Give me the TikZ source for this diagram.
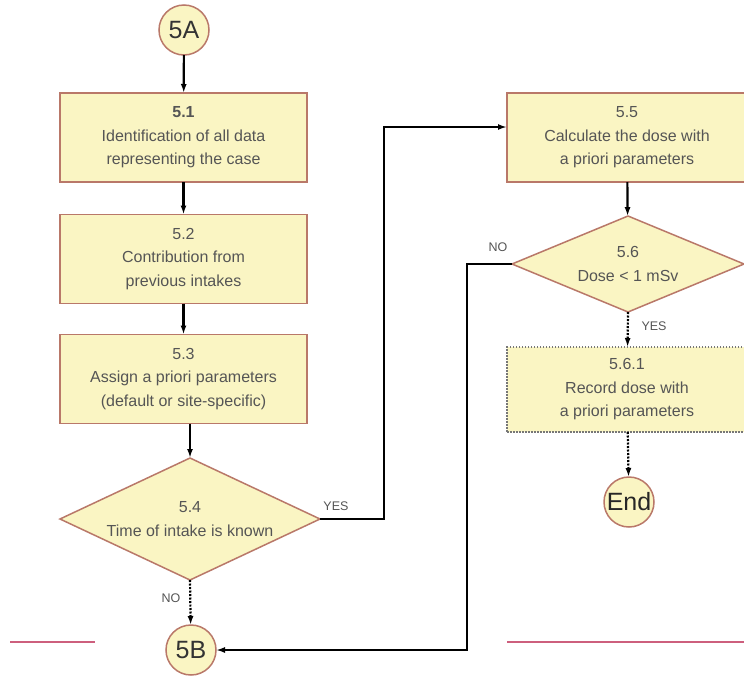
\documentclass[tikz,border=0pt]{standalone}
\usepackage{fontspec}
\setmainfont{Liberation Sans}
\usetikzlibrary{shapes.geometric,arrows.meta}
\definecolor{boxfill}{RGB}{250,245,195}
\definecolor{boxline}{RGB}{185,120,105}
\definecolor{txt}{RGB}{85,85,85}
\definecolor{redline}{RGB}{205,95,125}
\begin{document}
\begin{tikzpicture}[x=1pt,y=-1pt,
  every node/.style={inner sep=0pt,outer sep=0pt},
  proc/.style={draw=boxline,line width=1.5pt,fill=boxfill,minimum width=247pt,minimum height=89pt,
    font=\fontsize{16}{23.5}\selectfont,text=txt,align=center},
  dproc/.style={proc,draw=txt!80,dash pattern=on 1.5pt off 1.5pt,line width=1.2pt},
  dec/.style={diamond,draw=boxline,line width=1.5pt,fill=boxfill,aspect=2.1,
    font=\fontsize{16}{23.5}\selectfont,text=txt,align=center},
  conn/.style={circle,draw=boxline,line width=1.5pt,fill=boxfill,minimum size=50pt,
    font=\fontsize{25}{25}\selectfont,text=black!80},
  arr/.style={line width=2.2pt,-{Latex[length=9pt,width=6pt]}},
  darr/.style={line width=2.2pt,dash pattern=on 2pt off 1.5pt,-{Latex[length=9pt,width=6pt]}},
  lab/.style={font=\fontsize{12.5}{13}\selectfont,text=txt}]
\useasboundingbox (0,0) rectangle (744,675);
\fill[white] (0,0) rectangle (744,675);
\begin{scope}
\clip (0,0) rectangle (744,675);
% nodes
\node[conn] (c5a) at (184,30) {5A};
\node[proc] (b51) at (183.5,137.5) {\textbf{5.1}\\Identification of all data\\representing the case};
\node[proc] (b52) at (183.5,259) {5.2\\Contribution from\\previous intakes};
\node[proc] (b53) at (183.5,379) {5.3\\Assign a priori parameters\\(default or site-specific)};
\node[dec,minimum width=260pt,minimum height=122pt] (d54) at (190,519) {5.4\\Time of intake is known};
\node[conn] (c5b) at (191,650) {5B};
\node[proc,minimum width=240pt] (b55) at (627,137.5) {5.5\\Calculate the dose with\\a priori parameters};
\node[dec,minimum width=232pt,minimum height=96pt] (d56) at (628,264) {5.6\\Dose < 1 mSv};
\node[dproc,minimum width=240pt,minimum height=85pt] (b561) at (627,389.5) {5.6.1\\Record dose with\\a priori parameters};
\node[conn,text=black!85] (cend) at (629,502) {End};
% connectors
\draw[arr] (c5a) -- (b51);
\draw[arr] (b51) -- (b52);
\draw[arr] (b52) -- (b53);
\draw[arr] (b53.south -| d54.north) -- (d54.north);
\draw[darr] (d54.south) -- (c5b);
\coordinate (y1) at (384,519);
\coordinate (y2) at (384,127);
\draw[arr] (d54.east) -- (y1) -- (y2) -- (y2 -| b55.west);
\draw[arr] (b55) -- (d56);
\draw[darr] (d56.south) -- (b561);
\draw[darr] (b561) -- (cend);
\coordinate (n1) at (467,264);
\coordinate (n2) at (467,650);
\draw[arr] (d56.west) -- (n1) -- (n2) -- (c5b);
% labels
\node[lab] (lyes1) at (336,506) {YES};
\node[lab] (lno1) at (171,598) {NO};
\node[lab] (lno2) at (498,247) {NO};
\node[lab] (lyes2) at (654,326) {YES};
% red lines
\draw[redline,line width=2.5pt] (10,642) coordinate (r1) -- (95,642) coordinate (r2);
\draw[redline,line width=2.5pt] (507,642) coordinate (r3) -- (744,642) coordinate (r4);
\end{scope}
\end{tikzpicture}
\end{document}
